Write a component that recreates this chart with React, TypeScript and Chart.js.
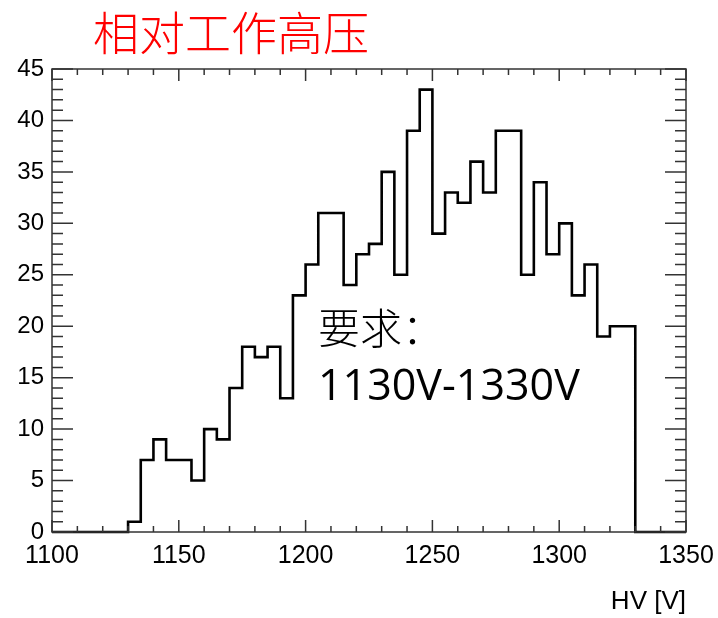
import React, { useEffect, useRef } from 'react';
import { Chart, registerables } from 'chart.js';

Chart.register(...registerables);

// ---- data ----
const binEdges = [
  1100, 1105, 1110, 1115, 1120, 1125, 1130, 1135, 1140, 1145,
  1150, 1155, 1160, 1165, 1170, 1175, 1180, 1185, 1190, 1195,
  1200, 1205, 1210, 1215, 1220, 1225, 1230, 1235, 1240, 1245,
  1250, 1255, 1260, 1265, 1270, 1275, 1280, 1285, 1290, 1295,
  1300, 1305, 1310, 1315, 1320, 1325, 1330, 1335, 1340, 1345,
  1350,
];
const counts = [
  0, 0, 0, 0, 0, 0, 1, 7, 9, 7,
  7, 5, 10, 9, 14, 18, 17, 18, 13, 23,
  26, 31, 31, 24, 27, 28, 35, 25, 39, 43,
  29, 33, 32, 36, 33, 39, 39, 25, 34, 27,
  30, 23, 26, 19, 20, 20, 0, 0, 0, 0,
];
const xTickLabels = [1100, 1150, 1200, 1250, 1300, 1350];
const yTickLabels = [0, 5, 10, 15, 20, 25, 30, 35, 40, 45];
const xMinorTicks = [
  1110, 1120, 1130, 1140, 1160, 1170, 1180, 1190, 1210, 1220, 1230, 1240,
  1260, 1270, 1280, 1290, 1310, 1320, 1330, 1340,
];
const yMinorTicks = [
  1, 2, 3, 4, 6, 7, 8, 9, 11, 12, 13, 14, 16, 17, 18, 19, 21, 22, 23, 24,
  26, 27, 28, 29, 31, 32, 33, 34, 36, 37, 38, 39, 41, 42, 43, 44,
];
const chartTitle = '相对工作高压';
const noteLine1 = '要求：';
const noteLine2 = '1130V-1330V';
const xAxisTitle = 'HV [V]';

const rootStylePlugin = {
  id: 'rootStyle',
  afterDatasetsDraw(chart: any) {
    const { ctx, chartArea, scales } = chart;
    const { left, right, top, bottom } = chartArea;
    const xs = scales.x;
    const ys = scales.y;
    ctx.save();
    ctx.strokeStyle = '#333';
    ctx.lineWidth = 1.5;
    ctx.strokeRect(left, top, right - left, bottom - top);
    ctx.beginPath();
    const xTick = (v: number, len: number) => {
      const px = xs.getPixelForValue(v);
      ctx.moveTo(px, bottom);
      ctx.lineTo(px, bottom - len);
      ctx.moveTo(px, top);
      ctx.lineTo(px, top + len);
    };
    const yTick = (v: number, len: number) => {
      const py = ys.getPixelForValue(v);
      ctx.moveTo(left, py);
      ctx.lineTo(left + len, py);
      ctx.moveTo(right, py);
      ctx.lineTo(right - len, py);
    };
    xTickLabels.forEach((v) => xTick(v, 12));
    xMinorTicks.forEach((v) => xTick(v, 6));
    yTickLabels.forEach((v) => yTick(v, 21));
    yMinorTicks.forEach((v) => yTick(v, 11));
    ctx.stroke();
    ctx.restore();
  },
  afterDraw(chart: any) {
    const { ctx } = chart;
    ctx.save();
    ctx.textAlign = 'left';
    ctx.textBaseline = 'middle';
    ctx.fillStyle = '#ff0000';
    ctx.font = '300 46px "Noto Sans CJK SC"';
    ctx.fillText(chartTitle, 93, 33);
    ctx.fillStyle = '#000';
    ctx.font = '300 42px "Noto Sans CJK SC"';
    ctx.fillText(noteLine1, 318, 328);
    ctx.font = '43px "Open Sans", "Noto Sans"';
    ctx.fillText(noteLine2, 318, 388);
    ctx.restore();
  },
};

export default function App() {
  const canvasRef = useRef<HTMLCanvasElement | null>(null);

  useEffect(() => {
    const canvas = canvasRef.current;
    if (!canvas) return;
    const points = binEdges.map((x, i) => ({
      x,
      y: i < counts.length ? counts[i] : counts[counts.length - 1],
    }));
    const chart = new Chart(canvas, {
      type: 'line',
      data: {
        datasets: [
          {
            label: 'HV',
            data: points,
            stepped: 'before',
            borderColor: '#000',
            borderWidth: 2.6,
            pointRadius: 0,
            fill: false,
            clip: 4,
          } as any,
        ],
      },
      options: {
        responsive: false,
        animation: false,
        devicePixelRatio: 1,
        layout: { padding: { top: 69, right: 32, left: 0, bottom: 0 } },
        plugins: {
          legend: { display: false },
          tooltip: { enabled: false },
          title: { display: false },
        },
        scales: {
          x: {
            type: 'linear',
            min: 1100,
            max: 1350,
            afterBuildTicks: (s: any) => {
              s.ticks = xTickLabels.map((v) => ({ value: v }));
            },
            afterFit: (s: any) => {
              s.height = 86;
              s.paddingLeft = 0;
              s.paddingRight = 0;
            },
            grid: { display: false, drawTicks: false },
            border: { display: false },
            ticks: {
              color: '#000',
              padding: 9,
              maxRotation: 0,
              autoSkip: false,
              callback: (v: any) => String(v),
              font: { family: '"Liberation Sans", Arial, sans-serif', size: 25 },
            },
            title: {
              display: true,
              text: xAxisTitle,
              align: 'end',
              color: '#000',
              padding: { top: 0, bottom: 1 },
              font: { family: '"Liberation Sans", Arial, sans-serif', size: 26 },
            },
          },
          y: {
            type: 'linear',
            min: 0,
            max: 45,
            afterBuildTicks: (s: any) => {
              s.ticks = yTickLabels.map((v) => ({ value: v }));
            },
            afterFit: (s: any) => {
              s.width = 52;
              s.paddingTop = 0;
              s.paddingBottom = 0;
            },
            grid: { display: false, drawTicks: false },
            border: { display: false },
            ticks: {
              color: '#000',
              padding: 8,
              autoSkip: false,
              callback: (v: any) => String(v),
              font: { family: '"Liberation Sans", Arial, sans-serif', size: 24 },
            },
          },
        },
      },
      plugins: [rootStylePlugin],
    });
    return () => chart.destroy();
  }, []);

  return (
    <div style={{ position: 'absolute', left: 0, top: 0, width: 718, height: 618, background: '#fff' }}>
      <canvas ref={canvasRef} width={718} height={618} style={{ display: 'block' }} />
    </div>
  );
}
